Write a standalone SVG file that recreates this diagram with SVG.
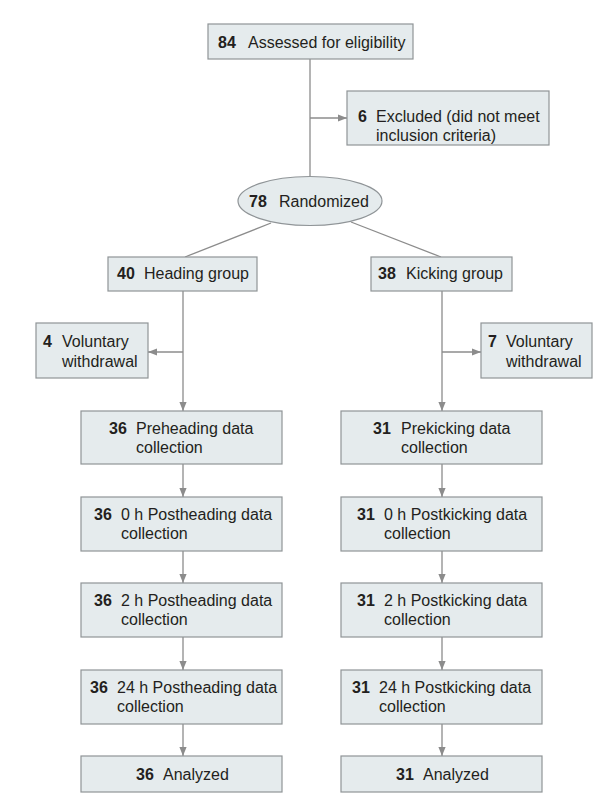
<svg xmlns="http://www.w3.org/2000/svg" width="609" height="811" viewBox="0 0 609 811">
<style>
.box{fill:#e5ebed;stroke:#8f9497;stroke-width:1.2}
.ln{stroke:#8c8c8c;stroke-width:1.3;fill:none}
text{font-family:"Liberation Sans",Arial,sans-serif;font-size:16px;fill:#231f20}
.n{font-weight:bold}
</style>
<defs>
<marker id="ah" viewBox="0 0 10 10" refX="10" refY="5" markerWidth="9" markerHeight="9" markerUnits="userSpaceOnUse" orient="auto">
<path d="M0,1 L10,5 L0,9 z" fill="#8c8c8c"/>
</marker>
</defs>
<rect width="609" height="811" fill="#fff"/>
<g id="connectors">
<line class="ln" x1="310" y1="59" x2="310" y2="177"/>
<line class="ln" x1="310" y1="118" x2="347" y2="118" marker-end="url(#ah)"/>
<line class="ln" x1="271" y1="223" x2="185" y2="257"/>
<line class="ln" x1="351" y1="222" x2="441" y2="257"/>
<line class="ln" x1="183" y1="291" x2="183" y2="411" marker-end="url(#ah)"/>
<line class="ln" x1="183" y1="352" x2="148" y2="352" marker-end="url(#ah)"/>
<line class="ln" x1="442" y1="291" x2="442" y2="411" marker-end="url(#ah)"/>
<line class="ln" x1="442" y1="352" x2="481" y2="352" marker-end="url(#ah)"/>
<line class="ln" x1="183" y1="464" x2="183" y2="497" marker-end="url(#ah)"/>
<line class="ln" x1="183" y1="551" x2="183" y2="583" marker-end="url(#ah)"/>
<line class="ln" x1="183" y1="637" x2="183" y2="670" marker-end="url(#ah)"/>
<line class="ln" x1="183" y1="724" x2="183" y2="756" marker-end="url(#ah)"/>
<line class="ln" x1="442" y1="464" x2="442" y2="497" marker-end="url(#ah)"/>
<line class="ln" x1="442" y1="551" x2="442" y2="583" marker-end="url(#ah)"/>
<line class="ln" x1="442" y1="637" x2="442" y2="670" marker-end="url(#ah)"/>
<line class="ln" x1="442" y1="724" x2="442" y2="756" marker-end="url(#ah)"/>
</g>
<g id="assessed">
<rect class="box" x="208" y="24" width="205" height="35"/>
<text x="218" y="48"><tspan class="n">84</tspan><tspan x="248">Assessed for eligibility</tspan></text>
</g>
<g id="excluded">
<rect class="box" x="347" y="91" width="202" height="54"/>
<text x="358" y="122"><tspan class="n">6</tspan><tspan x="376">Excluded (did not meet</tspan></text>
<text x="376" y="141">inclusion criteria)</text>
</g>
<g id="randomized">
<ellipse class="box" cx="310" cy="201" rx="72" ry="24.5"/>
<text x="249" y="207"><tspan class="n">78</tspan><tspan x="279">Randomized</tspan></text>
</g>
<g id="heading-group">
<rect class="box" x="108" y="257" width="149" height="34"/>
<text x="117" y="279"><tspan class="n">40</tspan><tspan x="144">Heading group</tspan></text>
</g>
<g id="kicking-group">
<rect class="box" x="371" y="257" width="141" height="34"/>
<text x="378" y="279"><tspan class="n">38</tspan><tspan x="406">Kicking group</tspan></text>
</g>
<g id="withdrawal-heading">
<rect class="box" x="36" y="323" width="112" height="55"/>
<text x="43" y="347"><tspan class="n">4</tspan><tspan x="62">Voluntary</tspan></text>
<text x="62" y="367">withdrawal</text>
</g>
<g id="withdrawal-kicking">
<rect class="box" x="481" y="323" width="111" height="55"/>
<text x="488" y="347"><tspan class="n">7</tspan><tspan x="506">Voluntary</tspan></text>
<text x="506" y="367">withdrawal</text>
</g>
<g id="preheading">
<rect class="box" x="81" y="411" width="201" height="53"/>
<text x="109" y="434"><tspan class="n">36</tspan><tspan x="136">Preheading data</tspan></text>
<text x="136" y="453">collection</text>
</g>
<g id="post0-heading">
<rect class="box" x="81" y="497" width="201" height="54"/>
<text x="94" y="520"><tspan class="n">36</tspan><tspan x="121">0 h Postheading data</tspan></text>
<text x="121" y="539">collection</text>
</g>
<g id="post2-heading">
<rect class="box" x="81" y="583" width="201" height="54"/>
<text x="94" y="606"><tspan class="n">36</tspan><tspan x="121">2 h Postheading data</tspan></text>
<text x="121" y="625">collection</text>
</g>
<g id="post24-heading">
<rect class="box" x="81" y="670" width="201" height="54"/>
<text x="90" y="693"><tspan class="n">36</tspan><tspan x="117">24 h Postheading data</tspan></text>
<text x="117" y="712">collection</text>
</g>
<g id="analyzed-heading">
<rect class="box" x="81" y="756" width="201" height="36"/>
<text x="136" y="780"><tspan class="n">36</tspan><tspan x="163">Analyzed</tspan></text>
</g>
<g id="prekicking">
<rect class="box" x="341" y="411" width="201" height="53"/>
<text x="373" y="434"><tspan class="n">31</tspan><tspan x="401">Prekicking data</tspan></text>
<text x="401" y="453">collection</text>
</g>
<g id="post0-kicking">
<rect class="box" x="341" y="497" width="201" height="54"/>
<text x="357" y="520"><tspan class="n">31</tspan><tspan x="384">0 h Postkicking data</tspan></text>
<text x="384" y="539">collection</text>
</g>
<g id="post2-kicking">
<rect class="box" x="341" y="583" width="201" height="54"/>
<text x="357" y="606"><tspan class="n">31</tspan><tspan x="384">2 h Postkicking data</tspan></text>
<text x="384" y="625">collection</text>
</g>
<g id="post24-kicking">
<rect class="box" x="341" y="670" width="201" height="54"/>
<text x="352" y="693"><tspan class="n">31</tspan><tspan x="379">24 h Postkicking data</tspan></text>
<text x="379" y="712">collection</text>
</g>
<g id="analyzed-kicking">
<rect class="box" x="341" y="756" width="201" height="36"/>
<text x="396" y="780"><tspan class="n">31</tspan><tspan x="423">Analyzed</tspan></text>
</g>
</svg>
